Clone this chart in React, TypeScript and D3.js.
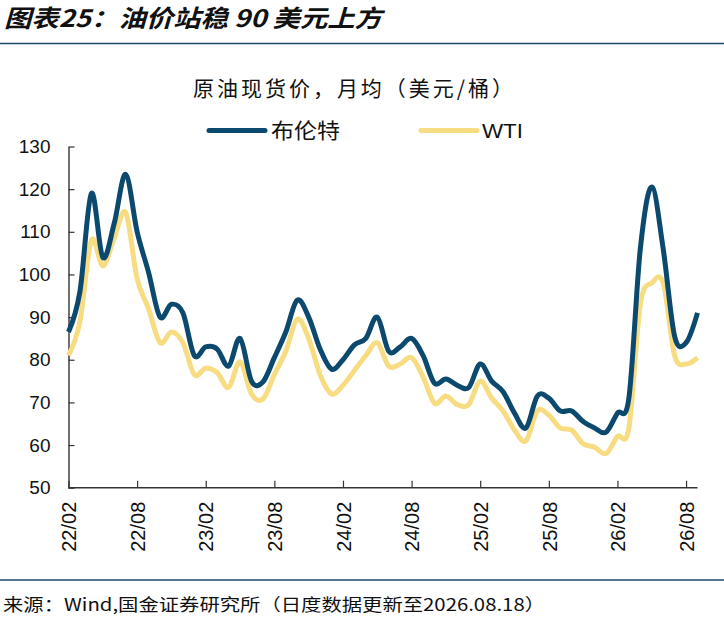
import React, { useEffect, useRef } from "react";
import * as d3 from "d3";

const months = [
  "22/02","22/03","22/04","22/05","22/06","22/07","22/08","22/09","22/10","22/11","22/12",
  "23/01","23/02","23/03","23/04","23/05","23/06","23/07","23/08","23/09","23/10","23/11","23/12",
  "24/01","24/02","24/03","24/04","24/05","24/06","24/07","24/08","24/09","24/10","24/11","24/12",
  "25/01","25/02","25/03","25/04","25/05","25/06","25/07","25/08","25/09","25/10","25/11","25/12",
  "26/01","26/02","26/03","26/04","26/05","26/06","26/07","26/08","26/09",
];

const brent = [
  86.5, 96, 119, 104, 112, 123.5, 110, 100.5, 90, 93, 91, 81,
  83, 82.5, 78.5, 85, 75, 74.8, 80.5, 86.5, 94, 90, 82.5, 77.8,
  80, 83.5, 85, 90, 82, 83, 85, 81, 74.5, 75.5, 74, 73.5,
  79, 75, 72.5, 67.5, 64, 71.5, 71, 68, 68, 65.5, 64, 63,
  67.5, 71, 106, 120.5, 106, 85.5, 84, 91,
];

const wti = [
  81, 89, 108, 102, 108.5, 114.5, 99, 92, 84, 86.5, 84, 76.5,
  78, 77, 73.5, 79.5, 72, 70.8, 76.5, 82, 89.5, 85, 76.5, 72,
  74, 77.5, 81, 84, 78.5, 79, 80.5, 76, 69.8, 71.5, 69.5, 69.5,
  75, 71, 68, 63.5, 61, 68, 67, 64, 63.5, 60.3, 59.5, 58,
  62, 64, 93, 98, 98, 81, 79, 80.5,
];

const xTickLabels = ["22/02","22/08","23/02","23/08","24/02","24/08","25/02","25/08","26/02","26/08"];
const yTicks = [50, 60, 70, 80, 90, 100, 110, 120, 130];

const seriesNames = ["布伦特", "WTI"];
const titleText = "图表25：油价站稳 90 美元上方";
const subtitleText = "原油现货价，月均（美元/桶）";
const sourceText = "来源：Wind,国金证券研究所（日度数据更新至2026.08.18）";

const BLUE = "#0B4A6E";
const YELLOW = "#F7DC82";
const NAVY = "#1B4A6B";
const LATIN = "'Liberation Sans', Arial, sans-serif";
const CJK = "'Noto Sans CJK SC', 'Noto Sans', sans-serif";

export default function App() {
  const ref = useRef<SVGSVGElement | null>(null);

  useEffect(() => {
    const svg = d3.select(ref.current);
    svg.selectAll("*").remove();

    const x = d3.scalePoint<string>().domain(months).range([68.5, 697.5]);
    const y = d3.scaleLinear().domain([50, 130]).range([487.7, 146.5]);

    // title
    svg.append("text")
      .attr("x", 4).attr("y", 27)
      .attr("font-family", CJK).attr("font-size", 24).attr("font-weight", "bold")
      .attr("font-style", "italic").attr("fill", "#111")
      .attr("textLength", 378).attr("lengthAdjust", "spacingAndGlyphs")
      .text(titleText);

    svg.append("line").attr("x1", 0).attr("x2", 724).attr("y1", 43.5).attr("y2", 43.5)
      .attr("stroke", NAVY).attr("stroke-width", 1.5);

    // subtitle
    svg.append("text")
      .attr("x", 193).attr("y", 96)
      .attr("font-family", CJK).attr("font-size", 21).attr("fill", "#111")
      .attr("textLength", 320).attr("lengthAdjust", "spacing")
      .text(subtitleText);

    // legend
    const legend = [
      { name: seriesNames[0], color: BLUE, x1: 209, x2: 265, tx: 271, tl: 69 },
      { name: seriesNames[1], color: YELLOW, x1: 421, x2: 477, tx: 482, tl: 41 },
    ];
    legend.forEach((l) => {
      svg.append("line").attr("x1", l.x1).attr("x2", l.x2).attr("y1", 130.5).attr("y2", 130.5)
        .attr("stroke", l.color).attr("stroke-width", 5).attr("stroke-linecap", "round");
      svg.append("text").attr("x", l.tx).attr("y", 138)
        .attr("font-family", l.name === "WTI" ? LATIN : CJK).attr("font-size", 21).attr("fill", "#111")
        .attr("textLength", l.tl).attr("lengthAdjust", "spacingAndGlyphs")
        .text(l.name);
    });

    // axes
    const yAxis = d3.axisLeft(y).tickValues(yTicks).tickSizeInner(-6).tickSizeOuter(0).tickPadding(18);
    const gy = svg.append("g").attr("transform", "translate(68.5,0)").call(yAxis);
    gy.selectAll("path").attr("stroke", "#333").attr("stroke-width", 1.4);
    gy.selectAll("line").attr("stroke", "#333").attr("stroke-width", 1.2);
    gy.selectAll("text").attr("font-family", LATIN).attr("font-size", 19).attr("fill", "#111");

    const xAxis = d3.axisBottom(x).tickValues(xTickLabels).tickSizeInner(-7).tickSizeOuter(0);
    const gx = svg.append("g").attr("transform", "translate(0,487.7)").call(xAxis);
    gx.select("path.domain").attr("d", "M68.5,0H697.5").attr("stroke", "#333").attr("stroke-width", 1.6);
    gx.selectAll("line").attr("stroke", "#333").attr("stroke-width", 1.2);
    gx.selectAll("text")
      .attr("font-family", LATIN).attr("font-size", 20).attr("fill", "#111")
      .attr("transform", "rotate(-90)")
      .attr("text-anchor", "end")
      .attr("x", -14).attr("y", 0).attr("dy", "0.36em");

    // lines
    const line = d3.line<number>()
      .x((_, i) => x(months[i]) as number)
      .y((d) => y(d))
      .curve(d3.curveCardinal.tension(0));

    svg.append("path").attr("d", line(wti) as string).attr("fill", "none")
      .attr("stroke", YELLOW).attr("stroke-width", 5).attr("stroke-linejoin", "round");
    svg.append("path").attr("d", line(brent) as string).attr("fill", "none")
      .attr("stroke", BLUE).attr("stroke-width", 5).attr("stroke-linejoin", "round");

    // footer
    svg.append("line").attr("x1", 0).attr("x2", 724).attr("y1", 580).attr("y2", 580)
      .attr("stroke", NAVY).attr("stroke-width", 1.5);
    svg.append("text").attr("x", 3).attr("y", 611)
      .attr("font-family", CJK).attr("font-size", 17).attr("fill", "#111")
      .attr("textLength", 542).attr("lengthAdjust", "spacingAndGlyphs")
      .text(sourceText);
  }, []);

  return (
    <div style={{ position: "absolute", left: 0, top: 0, width: 724, height: 620, background: "#fff" }}>
      <svg ref={ref} width={724} height={620} style={{ display: "block" }} />
    </div>
  );
}
